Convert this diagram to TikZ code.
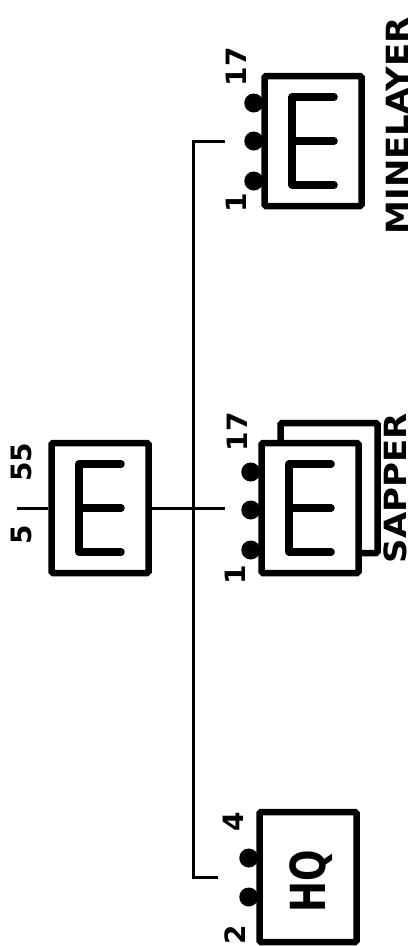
\documentclass[tikz,border=0pt]{standalone}
\usepackage{fontspec}
\setmainfont{DejaVu Sans}
\usetikzlibrary{calc}

\tikzset{
	unit/.style={draw, line width=6.5pt, fill=white, rounded corners=1.5pt, minimum width=97pt, minimum height=130pt, inner sep=0pt},
	link/.style={line width=3pt},
	esign/.style={line width=7.5pt, line cap=round, line join=round},
	num/.style={rotate=90, font=\fontsize{28}{28}\selectfont\bfseries, inner sep=0pt, text depth=0pt},
	lbl/.style={rotate=90, yscale=0.9, font=\fontsize{34}{34}\selectfont\bfseries, inner sep=0pt, text depth=0pt}
}
% engineer sign inside a unit box
\newcommand{\esym}[1]{%
	\draw[esign] ([xshift=21pt,yshift=44pt]#1.center) -- ([xshift=-21pt,yshift=44pt]#1.center) -- ([xshift=-21pt,yshift=-44pt]#1.center) -- ([xshift=21pt,yshift=-44pt]#1.center);
	\draw[esign] ([xshift=-21pt]#1.center) -- ([xshift=21pt]#1.center);}
% studs on the left side of a box
\newcommand{\studs}[2]{\foreach \yy in {#2} \fill ([xshift=-7.5pt,yshift=\yy pt]#1.west) circle (9.5pt);}

\begin{document}
\begin{tikzpicture}[x=1pt, y=-1pt]
	\useasboundingbox (0,0) rectangle (414,946);

	\node[unit] (parent) at (100,508){};
	\esym{parent}
	\draw[link] ([xshift=-31pt]parent.west) -- (parent.west);
	\node[num] (men) at ([xshift=-27pt,yshift=46pt]parent.west) {55};
	\node[num] (off) at ([xshift=-27pt,yshift=-27pt]parent.west) {5};

	\node[unit] (mine) at (313,141){};
	\esym{mine}
	\studs{mine}{38,0,-40}
	\node[num] (mine17) at ([xshift=-25pt,yshift=6pt]mine.north west) {17};
	\node[num] (mine1) at ([xshift=-25pt,yshift=6pt]mine.south west) {1};
	\node[lbl] (minelbl) at ([xshift=32.5pt,yshift=15pt]mine.east) {MINELAYER};

	\node[unit] (sapback) at (329,488){};
	\node[unit] (sapper) at (310,508){};
	\esym{sapper}
	\studs{sapper}{36,-2,-42}
	\node[num] (sap17) at ([xshift=-21pt,yshift=8pt]sapper.north west) {17};
	\node[num] (sap1) at ([xshift=-23pt,yshift=1pt]sapper.south west) {1};
	\node[lbl] (saplbl) at ([xshift=14.5pt]sapback.east) {SAPPER};

	\node[unit] (hq) at (308,877){};
	\node[lbl, yscale=1.45, font=\fontsize{37}{37}\selectfont\bfseries] (hqlbl) at ([yshift=-4pt]hq.center) {HQ};
	\studs{hq}{19,-20}
	\node[num] (hq4) at ([xshift=-23pt,yshift=-13pt]hq.north west) {4};
	\node[num] (hq2) at ([xshift=-21pt,yshift=11pt]hq.south west) {2};

	\coordinate (mine-in) at ([xshift=-36pt]mine.west);
	\coordinate (sap-in) at ([xshift=-33pt]sapper.west);
	\coordinate (hq-in) at ([xshift=-38pt]hq.west);
	\coordinate (fork) at (193,508);
	\draw[link] (parent.east) -- (sap-in);
	\draw[link] (mine-in) -| (fork) |- (hq-in);
\end{tikzpicture}
\end{document}
